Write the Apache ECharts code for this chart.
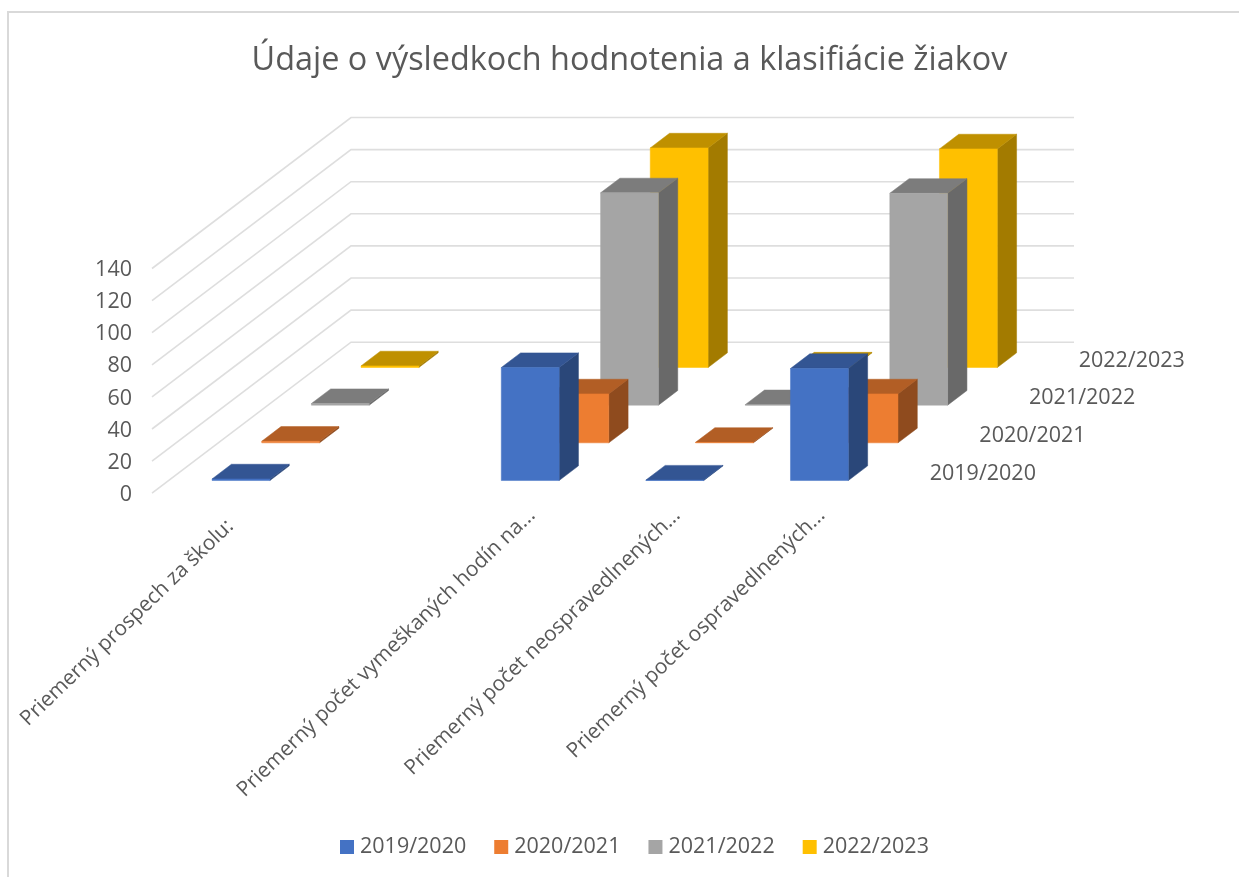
<!DOCTYPE html>
<html>
<head>
<meta charset="utf-8">
<style>html,body{margin:0;padding:0;background:#fff}#c{width:1239px;height:877px}</style>
<script src="https://cdn.jsdelivr.net/npm/echarts@6/dist/echarts.min.js"></script>
</head>
<body>
<div id="c"></div>
<script>
var titleText = 'Údaje o výsledkoch hodnotenia a klasifiácie žiakov';
var categories = [
  'Priemerný prospech za školu:',
  '',
  'Priemerný počet vymeškaných hodín na...',
  'Priemerný počet neospravedlnených...',
  'Priemerný počet ospravedlnených...'
];
var seriesNames = ['2019/2020', '2020/2021', '2021/2022', '2022/2023'];
var colors = ['#4472C4', '#ED7D31', '#A5A5A5', '#FFC000'];
var topColors = ['#335593', '#B25E25', '#7C7C7C', '#BF9000'];
var sideColors = ['#2A4779', '#8F4B1E', '#696969', '#A37B00'];
var yTicks = [0, 20, 40, 60, 80, 100, 120, 140];
var v2019 = [1, null, 70.4, 0.3, 69.8];
var v2020 = [1, null, 30.5, 0.3, 30.5];
var v2021 = [1, null, 132.3, 0.3, 132];
var v2022 = [1, null, 136.8, 0.3, 136.2];
var allValues = [v2019, v2020, v2021, v2022];

// oblique projection of the depth axis
var DEPTH_X = 199, DEPTH_Y = -151;
var ROW_START = 0.084, ROW_STEP = 0.2495, ROW_DEPTH = 0.097;
var BAR_FRACTION = 0.4;
var FONT = '"Open Sans", sans-serif';
var TEXT = '#595959';
// where each rotated category label ends, relative to its band centre on the floor
var labelShiftX = [6, 0, 18.5, 19, 19];
var labelShiftY = [30, 0, 19, 19, 19];

function barRenderer(row) {
  return function (params, api) {
    var v = api.value(1);
    if (v === null || isNaN(v)) return;
    var d = ROW_START + ROW_STEP * row;
    var ox = DEPTH_X * d, oy = DEPTH_Y * d;
    var dx = DEPTH_X * ROW_DEPTH, dy = DEPTH_Y * ROW_DEPTH;
    var w = api.size([1, 0])[0] * BAR_FRACTION;
    var c0 = api.coord([api.value(0), 0]);
    var c1 = api.coord([api.value(0), v]);
    var l = c0[0] - w / 2 + ox, r = l + w, b = c0[1] + oy, t = c1[1] + oy;
    function poly(points, fill) {
      return { type: 'polygon', shape: { points: points },
        style: { fill: fill, stroke: fill, lineWidth: 0.5 } };
    }
    return { type: 'group', children: [
      poly([[r, b], [r + dx, b + dy], [r + dx, t + dy], [r, t]], sideColors[row]),
      poly([[l, t], [r, t], [r + dx, t + dy], [l + dx, t + dy]], topColors[row]),
      poly([[l, b], [r, b], [r, t], [l, t]], colors[row])
    ] };
  };
}

var series = [{
  type: 'custom', name: 'walls', silent: true, z: 1,
  data: yTicks.map(function (t) { return [0, t]; }),
  renderItem: function (params, api) {
    var cs = params.coordSys;
    var y = api.coord([0, api.value(1)])[1];
    return { type: 'polyline',
      shape: { points: [[cs.x, y], [cs.x + DEPTH_X, y + DEPTH_Y], [cs.x + cs.width + DEPTH_X, y + DEPTH_Y]] },
      style: { fill: 'none', stroke: '#dedede', lineWidth: 1.6 } };
  }
}, {
  type: 'custom', name: 'depth', silent: true, z: 2,
  data: seriesNames.map(function (n, i) { return [4, 0, i]; }),
  renderItem: function (params, api) {
    var cs = params.coordSys, row = api.value(2);
    var d = ROW_START + ROW_STEP * row;
    return { type: 'text', style: {
      text: seriesNames[row], font: '21.5px ' + FONT, fill: TEXT,
      x: cs.x + cs.width + DEPTH_X * d + 38, y: cs.y + cs.height + DEPTH_Y * d - 7,
      align: 'left', verticalAlign: 'middle' } };
  }
}, {
  type: 'custom', name: 'categoryLabels', silent: true, z: 2,
  data: categories.map(function (c, i) { return [i, 0]; }),
  renderItem: function (params, api) {
    var i = api.value(0), p = api.coord([i, 0]);
    return { type: 'text', x: p[0] + labelShiftX[i], y: p[1] + labelShiftY[i],
      rotation: Math.PI * 44 / 180,
      style: { text: categories[i], font: '20.9px ' + FONT, fill: TEXT,
        x: 0, y: 0, align: 'right', verticalAlign: 'middle' } };
  }
}];
seriesNames.forEach(function (name, i) {
  series.push({
    type: 'custom', name: name, z: 10 - i,
    itemStyle: { color: colors[i] },
    encode: { x: 0, y: 1 },
    data: allValues[i].map(function (v, k) { return [k, v]; }),
    renderItem: barRenderer(i)
  });
});

var chart = echarts.init(document.getElementById('c'), null, { renderer: 'canvas' });
chart.setOption({
  animation: false,
  backgroundColor: '#fff',
  title: { text: titleText, left: 624.5, top: 40, textAlign: 'center',
    textStyle: { fontFamily: FONT, fontWeight: 'normal', fontSize: 32.4, color: TEXT } },
  legend: { data: seriesNames, left: 335, top: 831, itemWidth: 14, itemHeight: 14, itemGap: 28,
    icon: 'rect', textStyle: { fontFamily: FONT, fontSize: 21.5, color: TEXT, padding: [0, 0, 0, 1] } },
  grid: { left: 152, top: 268.5, width: 723, height: 224.7 },
  xAxis: { type: 'category', data: categories,
    axisLine: { show: false }, axisTick: { show: false }, splitLine: { show: false },
    axisLabel: { show: false } },
  yAxis: { type: 'value', min: 0, max: 140, interval: 20,
    axisLine: { show: false }, axisTick: { show: false }, splitLine: { show: false },
    axisLabel: { margin: 20, formatter: '{a|{value}}',
      rich: { a: { fontFamily: FONT, fontSize: 21.5, color: TEXT, padding: [3, 0, 0, 0] } } } },
  graphic: [
    { type: 'rect', shape: { x: 8, y: 12, width: 1260, height: 900 }, silent: true, z: 0,
      style: { fill: 'none', stroke: '#d9d9d9', lineWidth: 2 } }
  ],
  series: series
});
</script>
</body>
</html>
